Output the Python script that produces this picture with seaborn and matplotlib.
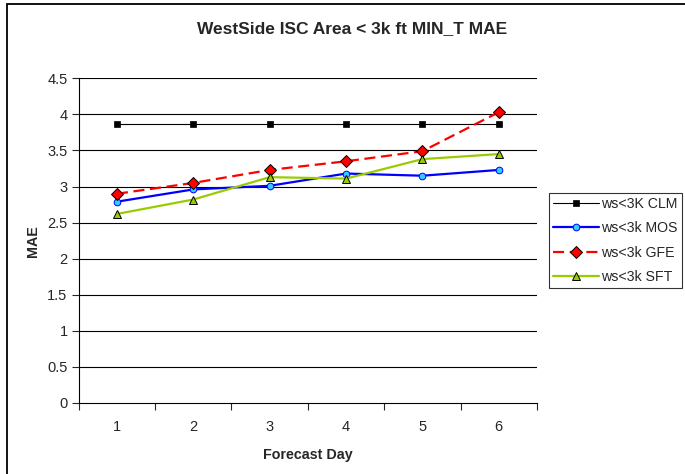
import matplotlib
matplotlib.use("Agg")
import matplotlib.pyplot as plt
import matplotlib.patches as mpatches
import seaborn as sns
import numpy as np
import pandas as pd

# values
days = [1, 2, 3, 4, 5, 6]
clm = [3.87, 3.87, 3.87, 3.87, 3.87, 3.87]
mos = [2.79, 2.96, 3.01, 3.18, 3.15, 3.23]
gfe = [2.90, 3.05, 3.23, 3.35, 3.49, 4.03]
sft = [2.62, 2.82, 3.13, 3.11, 3.38, 3.45]
labels = ["ws<3K CLM", "ws<3k MOS", "ws<3k GFE", "ws<3k SFT"]
yticks = [0, 0.5, 1, 1.5, 2, 2.5, 3, 3.5, 4, 4.5]

sns.set_style("white")
plt.rcParams["font.family"] = ["Liberation Sans", "DejaVu Sans"]

W, H = 685, 474
fig = plt.figure(figsize=(W / 100, H / 100), dpi=100)
ax = fig.add_axes([78.7 / W, 1 - 403 / H, (537 - 78.7) / W, (403 - 78.3) / H])

# styles per series
styles = [
    dict(color="black", lw=0.8, marker="s", ms=4.5, mfc="black", mec="black", mew=0.5),
    dict(color="#0000FF", lw=1.6, marker="o", ms=4.8, mfc="#33CCFF", mec="#0000FF", mew=0.7),
    dict(color="#FF0000", lw=1.6, marker="D", ms=6.6, mfc="#FF0000", mec="black", mew=0.7,
         linestyle=(0, (5, 2.5))),
    dict(color="#99CC00", lw=1.6, marker="^", ms=5.2, mfc="#99CC00", mec="black", mew=0.7),
]

df = pd.DataFrame({"day": days, "CLM": clm, "MOS": mos, "GFE": gfe, "SFT": sft})
for col, lab, st in zip(["CLM", "MOS", "GFE", "SFT"], labels, styles):
    sns.lineplot(data=df, x="day", y=col, ax=ax, label=lab, **st)

ax.set_xlim(0.5, 6.5)
ax.set_ylim(0, 4.5)
ax.set_yticks(yticks)
ax.set_yticklabels([f"{v:g}" for v in yticks], fontsize=10.5)
ax.set_xticks(np.arange(0.5, 7, 1))
ax.set_xticklabels([])
ax.set_xticks(days, minor=True)
ax.set_xticklabels([str(d) for d in days], minor=True, fontsize=10.5)
ax.tick_params(axis="x", which="minor", length=0, pad=12)
ax.tick_params(axis="x", which="major", length=5, width=0.8, direction="out", bottom=True)
ax.tick_params(axis="y", length=5, width=0.8, direction="out", left=True, pad=3)

for v in yticks[1:]:
    ax.axhline(v, color="black", lw=0.8, zorder=0.5)

for s in ["top", "right"]:
    ax.spines[s].set_visible(False)
for s in ["left", "bottom"]:
    ax.spines[s].set_color("black")
    ax.spines[s].set_linewidth(0.8)

ax.set_xlabel("Forecast Day", fontsize=10.3, fontweight="bold", labelpad=10)
ax.set_ylabel("MAE", fontsize=10.3, fontweight="bold", labelpad=5)

fig.text(352 / W, 1 - 29 / H, "WestSide ISC Area < 3k ft MIN_T MAE",
         ha="center", va="center", fontsize=12.5, fontweight="bold")

leg = ax.legend(loc="upper left", bbox_to_anchor=(549 / W, 1 - 193 / H),
                bbox_transform=fig.transFigure, borderaxespad=0, fontsize=10.2,
                frameon=True, fancybox=False, handlelength=3.2, handletextpad=0.2,
                labelspacing=0.72, borderpad=0.3)
leg.get_frame().set_edgecolor("black")
leg.get_frame().set_linewidth(0.8)

# outer chart frame (cut off at right and bottom)
fig.patches.append(mpatches.Rectangle((7 / W, -0.05), 1, 1.05 - 4 / H, fill=False,
                                      lw=1.3, edgecolor="black", transform=fig.transFigure))

fig.savefig("out.png", dpi=100)
